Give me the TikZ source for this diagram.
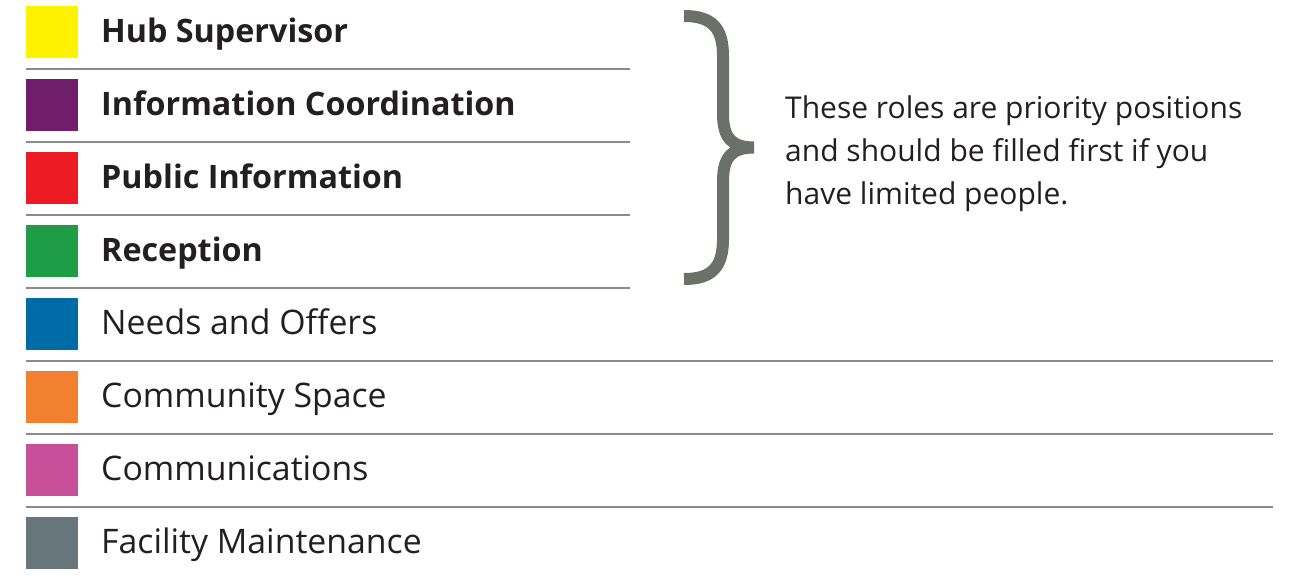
\documentclass[tikz,border=0pt]{standalone}
\usepackage{fontspec}
\setmainfont{Open Sans}
\usetikzlibrary{positioning}
\definecolor{ink}{HTML}{231F20}
\definecolor{rule}{HTML}{8A8A8A}
\definecolor{bracegray}{HTML}{6B7068}
\definecolor{hubyellow}{HTML}{FFF200}
\definecolor{infopurple}{HTML}{701E6B}
\definecolor{pubred}{HTML}{ED1C24}
\definecolor{recgreen}{HTML}{1F9D46}
\definecolor{needsblue}{HTML}{006CA7}
\definecolor{spaceorange}{HTML}{F3802F}
\definecolor{commpink}{HTML}{C8509B}
\definecolor{facgray}{HTML}{67767A}
\tikzset{
  swatch/.style={rectangle, fill=#1, inner sep=0pt, outer sep=0pt, minimum size=52pt},
  role/.style={anchor=base west, inner sep=0pt, text=ink, font=\fontsize{33.8}{38}\selectfont},
  keyrole/.style={role, font=\fontsize{32.3}{38}\selectfont\bfseries},
  sep/.style={draw=rule, line width=1.6pt},
  note/.style={anchor=base west, inner sep=0pt, align=left, text=ink, font=\fontsize{30}{43}\selectfont},
}

\begin{document}
\begin{tikzpicture}[x=1pt,y=1pt]
  \useasboundingbox (0,0) rectangle (1300,-578);
  \coordinate (short-end) at (630,0); %
  \coordinate (long-end) at (1273,0); %

  \node[swatch=hubyellow]                    (hub)   at (52,-32) {}; %
  \node[swatch=infopurple, below=21pt of hub]  (info)  {}; %
  \node[swatch=pubred, below=21pt of info]     (pub)   {}; %
  \node[swatch=recgreen, below=21pt of pub]    (rec)   {}; %
  \node[swatch=needsblue, below=21pt of rec]   (needs) {}; %
  \node[swatch=spaceorange, below=21pt of needs] (space) {}; %
  \node[swatch=commpink, below=21pt of space]  (comm)  {}; %
  \node[swatch=facgray, below=21pt of comm]    (fac)   {}; %

  \node[keyrole] (hub-l)   at ([xshift=23pt, yshift=-10pt]hub.east)   {Hub Supervisor}; %
  \node[keyrole] (info-l)  at ([xshift=23pt, yshift=-10pt]info.east)  {Information Coordination}; %
  \node[keyrole] (pub-l)   at ([xshift=23pt, yshift=-10pt]pub.east)   {Public Information}; %
  \node[keyrole] (rec-l)   at ([xshift=23pt, yshift=-10pt]rec.east)   {Reception}; %
  \node[role]    (needs-l) at ([xshift=23pt, yshift=-10pt]needs.east) {Needs and Offers}; %
  \node[role]    (space-l) at ([xshift=23pt, yshift=-10pt]space.east) {Community Space}; %
  \node[role]    (comm-l)  at ([xshift=23pt, yshift=-10pt]comm.east)  {Communications}; %
  \node[role]    (fac-l)   at ([xshift=23pt, yshift=-10pt]fac.east)   {Facility Maintenance}; %

  % separators
  \draw[sep] ([yshift=-11pt]hub.south west) -- ([yshift=-11pt]hub.south west -| short-end);
  \draw[sep] ([yshift=-11pt]info.south west) -- ([yshift=-11pt]info.south west -| short-end);
  \draw[sep] ([yshift=-11pt]pub.south west) -- ([yshift=-11pt]pub.south west -| short-end);
  \draw[sep] ([yshift=-11pt]rec.south west) -- ([yshift=-11pt]rec.south west -| short-end);
  \draw[sep] ([yshift=-11pt]needs.south west) -- ([yshift=-11pt]needs.south west -| long-end);
  \draw[sep] ([yshift=-11pt]space.south west) -- ([yshift=-11pt]space.south west -| long-end);
  \draw[sep] ([yshift=-11pt]comm.south west) -- ([yshift=-11pt]comm.south west -| long-end);

  % brace
  \draw[bracegray, line width=12pt]
    (684,-16) .. controls (712,-16) and (723,-28) .. (723,-56) -- (723,-114)
      .. controls (723,-138) and (732,-147.5) .. (754,-147.5)
    (684,-279) .. controls (712,-279) and (723,-267) .. (723,-239) -- (723,-181)
      .. controls (723,-157) and (732,-147.5) .. (754,-147.5);

  \node[note] (priority) at (785,-204) {These roles are priority positions\\and should be filled first if you\\have limited people.};
\end{tikzpicture}
\end{document}
